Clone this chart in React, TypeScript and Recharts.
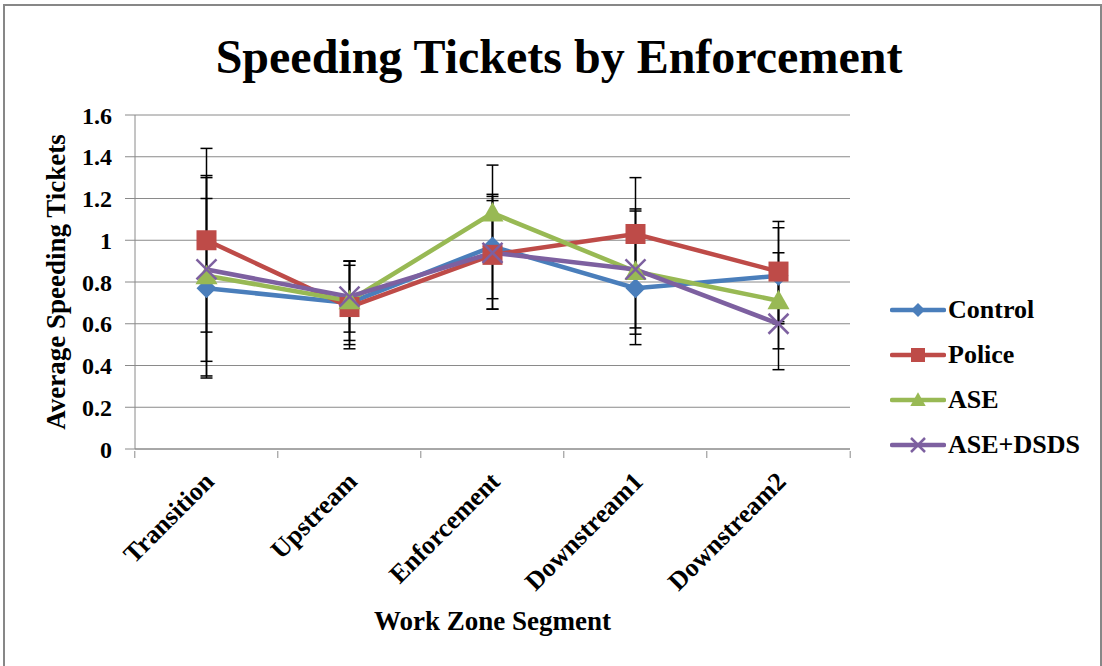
import React from 'react';
import { LineChart, Line, XAxis, YAxis, CartesianGrid, ErrorBar } from 'recharts';

const segments = ['Transition', 'Upstream', 'Enforcement', 'Downstream1', 'Downstream2'];

const control = [0.77, 0.70, 0.97, 0.77, 0.83];
const controlErr = [0.43, 0.20, 0.25, 0.27, 0.23];
const police = [1.00, 0.68, 0.93, 1.03, 0.85];
const policeErr = [0.44, 0.20, 0.26, 0.27, 0.24];
const ase = [0.83, 0.71, 1.13, 0.85, 0.71];
const aseErr = [0.48, 0.19, 0.23, 0.30, 0.23];
const aseDsds = [0.86, 0.73, 0.94, 0.86, 0.60];
const aseDsdsErr = [0.44, 0.17, 0.27, 0.28, 0.22];

const yTicks = [0, 0.2, 0.4, 0.6, 0.8, 1, 1.2, 1.4, 1.6];

const FONT = '"Liberation Serif", "Times New Roman", serif';
const AXIS_GRAY = '#8a8a8a';

type Shape = 'diamond' | 'square' | 'triangle' | 'x';

const SERIES: { key: string; name: string; color: string; shape: Shape }[] = [
  { key: 'control', name: 'Control', color: '#4a7ebb', shape: 'diamond' },
  { key: 'police', name: 'Police', color: '#be4b48', shape: 'square' },
  { key: 'ase', name: 'ASE', color: '#98b954', shape: 'triangle' },
  { key: 'aseDsds', name: 'ASE+DSDS', color: '#7d60a0', shape: 'x' },
];

const data = segments.map((segment, i) => ({
  segment,
  control: control[i],
  controlErr: controlErr[i],
  police: police[i],
  policeErr: policeErr[i],
  ase: ase[i],
  aseErr: aseErr[i],
  aseDsds: aseDsds[i],
  aseDsdsErr: aseDsdsErr[i],
}));

function drawMarker(shape: Shape, color: string, cx: number, cy: number, r: number, key?: any) {
  if (shape === 'diamond') {
    return <polygon key={key} points={`${cx},${cy - r} ${cx + r},${cy} ${cx},${cy + r} ${cx - r},${cy}`} fill={color} />;
  }
  if (shape === 'square') {
    return <rect key={key} x={cx - r} y={cy - r} width={r * 2} height={r * 2} fill={color} />;
  }
  if (shape === 'triangle') {
    return <polygon key={key} points={`${cx},${cy - r * 1.1} ${cx + r * 1.1},${cy + r * 0.85} ${cx - r * 1.1},${cy + r * 0.85}`} fill={color} />;
  }
  return (
    <g key={key} stroke={color} strokeWidth={2.5}>
      <line x1={cx - r} y1={cy - r} x2={cx + r} y2={cy + r} />
      <line x1={cx - r} y1={cy + r} x2={cx + r} y2={cy - r} />
    </g>
  );
}

const makeDot = (shape: Shape, color: string) => (props: any) => {
  const { cx, cy, index } = props;
  if (cx == null || cy == null) return <g key={index} />;
  return drawMarker(shape, color, cx, cy, 10, index);
};

// Excel style: rotated labels, tick marks between categories
const XTick = (props: any) => {
  const { x, y, payload, index, visibleTicksCount } = props;
  const half = 143.4 / 2;
  return (
    <g>
      <line x1={x - half} y1={y} x2={x - half} y2={y + 7} stroke={AXIS_GRAY} />
      {index === visibleTicksCount - 1 && (
        <line x1={x + half} y1={y} x2={x + half} y2={y + 7} stroke={AXIS_GRAY} />
      )}
      <text
        x={x + 9}
        y={y + 32}
        transform={`rotate(-45 ${x + 9} ${y + 32})`}
        textAnchor="end"
        fontFamily={FONT}
        fontWeight="bold"
        fontSize={26}
        fill="#000"
      >
        {payload.value}
      </text>
    </g>
  );
};

const YTitle = (props: any) => {
  const { viewBox } = props;
  const cx = 56;
  const cy = viewBox.y + viewBox.height / 2;
  return (
    <text
      x={cx}
      y={cy}
      transform={`rotate(-90 ${cx} ${cy})`}
      textAnchor="middle"
      dominantBaseline="central"
      fontFamily={FONT}
      fontWeight="bold"
      fontSize={27}
      fill="#000"
    >
      Average Speeding Tickets
    </text>
  );
};

const XTitle = (props: any) => {
  const { viewBox } = props;
  return (
    <text
      x={viewBox.x + viewBox.width / 2}
      y={630}
      textAnchor="middle"
      fontFamily={FONT}
      fontWeight="bold"
      fontSize={27}
      fill="#000"
    >
      Work Zone Segment
    </text>
  );
};

export default function App() {
  return (
    <div style={{ position: 'absolute', left: 0, top: 0, width: 1102, height: 666, background: '#fff', overflow: 'hidden' }}>
      <div
        style={{
          position: 'absolute',
          left: 3,
          top: 4,
          width: 1095,
          height: 680,
          border: '2px solid #878787',
        }}
      />
      <div
        style={{
          position: 'absolute',
          left: 0,
          width: 1118,
          top: 28,
          textAlign: 'center',
          fontFamily: FONT,
          fontWeight: 'bold',
          fontSize: 48,
          lineHeight: '58px',
          color: '#000',
        }}
      >
        Speeding Tickets by Enforcement
      </div>

      <div style={{ position: 'absolute', left: 0, top: 0 }}>
        <LineChart
          width={1102}
          height={666}
          data={data}
          margin={{ top: 115, right: 252, bottom: 67, left: 75 }}
        >
          <CartesianGrid vertical={false} stroke={AXIS_GRAY} strokeWidth={1} />
          <XAxis
            dataKey="segment"
            scale="band"
            stroke={AXIS_GRAY}
            tickLine={false}
            tickSize={0}
            height={150}
            interval={0}
            tick={<XTick />}
            label={<XTitle />}
          />
          <YAxis
            domain={[0, 1.6]}
            ticks={yTicks}
            width={60}
            stroke={AXIS_GRAY}
            tickSize={10}
            tickMargin={13}
            tick={{ fontFamily: FONT, fontWeight: 'bold', fontSize: 24, fill: '#000' }}
            label={<YTitle />}
          />
          {SERIES.map((s) => (
            <Line
              key={s.key}
              dataKey={s.key}
              name={s.name}
              stroke={s.color}
              strokeWidth={4.5}
              dot={makeDot(s.shape, s.color)}
              activeDot={false}
              isAnimationActive={false}
            >
              <ErrorBar dataKey={`${s.key}Err`} width={6} strokeWidth={1.5} stroke="#000" direction="y" />
            </Line>
          ))}
        </LineChart>
      </div>

      {SERIES.map((s, i) => (
        <div
          key={s.key}
          style={{
            position: 'absolute',
            left: 890,
            top: 310 + i * 45 - 15,
            height: 30,
            display: 'flex',
            alignItems: 'center',
          }}
        >
          <svg width={56} height={30}>
            <line x1={2} y1={15} x2={54} y2={15} stroke={s.color} strokeWidth={4.5} strokeLinecap="round" />
            {drawMarker(s.shape, s.color, 28, 15, 7)}
          </svg>
          <span style={{ fontFamily: FONT, fontWeight: 'bold', fontSize: 26, color: '#000', marginLeft: 2 }}>{s.name}</span>
        </div>
      ))}
    </div>
  );
}
